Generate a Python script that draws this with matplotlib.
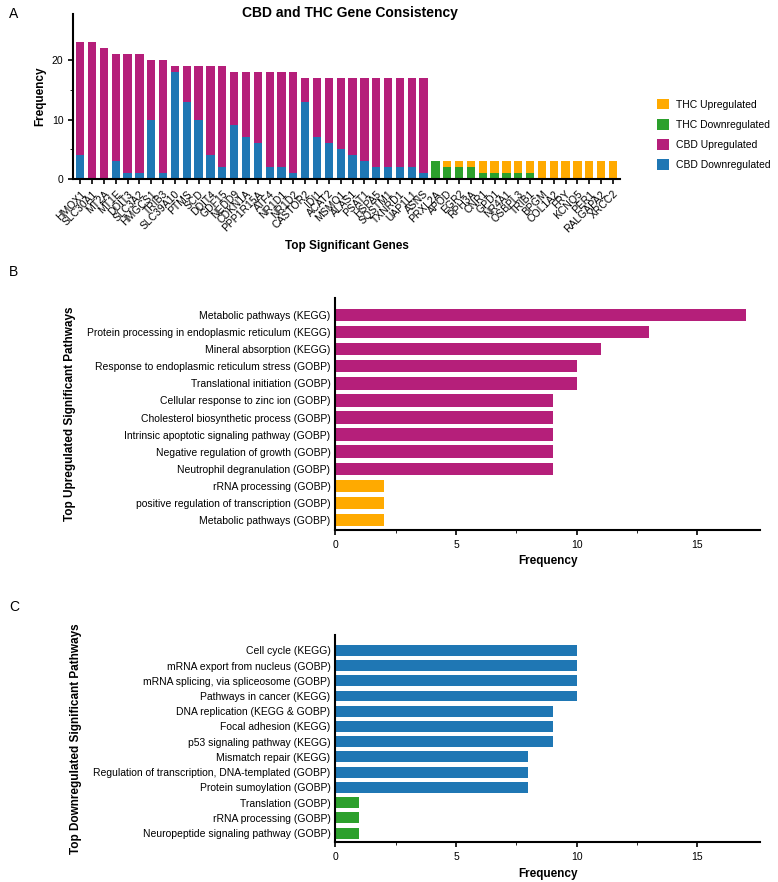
import matplotlib
matplotlib.use("Agg")
import matplotlib.pyplot as plt
import numpy as np

genes = ["HMOX1","SLC30A1","MT2A","MT1E","DDIT3","SLC3A2","HMGCS1","TRIB3","SLC39A10","PTMS","SCD","DDIT4","GDF15","NEDD9","CDKN1A","PPP1R15A","ATF4","NR1D1","NR1D2","CASTOR2","IDI1","ACAT2","MSMO1","ALAS1","PSAT1","HSPA5","SQSTM1","TXNRD1","UAP1L1","ASNS",
         "PRXL2A","APOD","EGR2","RPH3A","CNR1","GPD1","NR4A1","OSBPL3","TRIB1","BPGM","COL1A2","FRY","KCNQ5","PER1","RALGAPA2","XRCC2"]
cbd_down = [4,0,0,3,1,1,10,1,18,13,10,4,2,9,7,6,2,2,1,13,7,6,5,4,3,2,2,2,2,1] + [0]*16
cbd_up   = [19,23,22,18,20,20,10,19,1,6,9,15,17,9,11,12,16,16,17,4,10,11,12,13,14,15,15,15,15,16] + [0]*16
thc_down = [0]*30 + [3,2,2,2,1,1,1,1,1,0,0,0,0,0,0,0]
thc_up   = [0]*30 + [0,1,1,1,2,2,2,2,2,3,3,3,3,3,3,3]

up_paths = ["Metabolic pathways (KEGG)","Protein processing in endoplasmic reticulum (KEGG)","Mineral absorption (KEGG)",
            "Response to endoplasmic reticulum stress (GOBP)","Translational initiation (GOBP)","Cellular response to zinc ion (GOBP)",
            "Cholesterol biosynthetic process (GOBP)","Intrinsic apoptotic signaling pathway (GOBP)","Negative regulation of growth (GOBP)",
            "Neutrophil degranulation (GOBP)","rRNA processing (GOBP)","positive regulation of transcription (GOBP)","Metabolic pathways (GOBP)"]
up_vals = [17,13,11,10,10,9,9,9,9,9,2,2,2]
up_src = ["CBD"]*10 + ["THC"]*3
down_paths = ["Cell cycle (KEGG)","mRNA export from nucleus (GOBP)","mRNA splicing, via spliceosome (GOBP)","Pathways in cancer (KEGG)",
              "DNA replication (KEGG & GOBP)","Focal adhesion (KEGG)","p53 signaling pathway (KEGG)","Mismatch repair (KEGG)",
              "Regulation of transcription, DNA-templated (GOBP)","Protein sumoylation (GOBP)","Translation (GOBP)","rRNA processing (GOBP)",
              "Neuropeptide signaling pathway (GOBP)"]
down_vals = [10,10,10,10,9,9,9,8,8,8,1,1,1]
down_src = ["CBD"]*10 + ["THC"]*3

C_THC_UP = "#FFAA00"; C_THC_DN = "#2CA02C"; C_CBD_UP = "#B51F7A"; C_CBD_DN = "#1F77B4"

plt.rcParams['font.family'] = ['Liberation Sans', 'DejaVu Sans']
plt.rcParams['font.size'] = 7.5
fig = plt.figure(figsize=(7.78, 8.82), dpi=100)

def style(ax):
    for s in ['top','right']:
        ax.spines[s].set_visible(False)
    for s in ['left','bottom']:
        ax.spines[s].set_linewidth(1.5)
    ax.tick_params(width=1.2, labelsize=7.5)

# Panel A
ax = fig.add_axes([0.094, 0.797, 0.703, 0.187])
x = np.arange(len(genes))
w = 0.7
ax.bar(x, cbd_down, w, color=C_CBD_DN, label="CBD Downregulated")
ax.bar(x, cbd_up, w, bottom=cbd_down, color=C_CBD_UP, label="CBD Upregulated")
ax.bar(x, thc_down, w, color=C_THC_DN, label="THC Downregulated")
ax.bar(x, thc_up, w, bottom=thc_down, color=C_THC_UP, label="THC Upregulated")
ax.set_xlim(-0.6, len(genes)-0.4)
ax.set_ylim(0, 27.7)
ax.set_yticks([0,10,20])
ax.set_yticks([5,15], minor=True)
ax.set_xticks(x)
ax.set_xticklabels(genes, rotation=45, ha='right', rotation_mode='anchor', fontsize=7)
ax.set_ylabel("Frequency", fontweight='bold', fontsize=8.5)
ax.set_xlabel("Top Significant Genes", fontweight='bold', fontsize=8.5, labelpad=4)
fig.text(0.45, 0.993, "CBD and THC Gene Consistency", fontweight='bold', fontsize=10, ha='center', va='top')
style(ax)
h, l = ax.get_legend_handles_labels()
order = [3,2,1,0]
ax.legend([h[i] for i in order], [l[i] for i in order], loc='center left', bbox_to_anchor=(1.05, 0.27),
          frameon=False, fontsize=7.5, handlelength=1.2, handleheight=1.2, labelspacing=0.9, handletextpad=0.6)
fig.text(0.012, 0.992, "A", fontsize=10, va='top')

def hpanel(rect, names, vals, src, ccbd, cthc, ylabel, letter, ly):
    ax = fig.add_axes(rect)
    y = np.arange(len(names))
    cols = [ccbd if s == "CBD" else cthc for s in src]
    ax.barh(y, vals, 0.72, color=cols)
    ax.set_ylim(len(names)-0.4, -1.0)
    ax.set_xlim(0, 17.6)
    ax.set_xticks([0,5,10,15])
    ax.set_xticks([2.5,7.5,12.5], minor=True)
    ax.set_yticks(y)
    ax.set_yticklabels(names, fontsize=7.5)
    ax.set_xlabel("Frequency", fontweight='bold', fontsize=8.5)
    ax.set_ylabel(ylabel, fontweight='bold', fontsize=8.5, labelpad=8)
    style(ax)
    ax.tick_params(axis='y', length=0)
    fig.text(0.012, ly, letter, fontsize=10, va='top')

hpanel([0.431, 0.399, 0.546, 0.263], up_paths, up_vals, up_src, C_CBD_UP, C_THC_UP,
       "Top Upregulated Significant Pathways", "B", 0.7)
hpanel([0.431, 0.045, 0.546, 0.235], down_paths, down_vals, down_src, C_CBD_DN, C_THC_DN,
       "Top Downregulated Significant Pathways", "C", 0.32)

fig.savefig("out.png", dpi=100)
